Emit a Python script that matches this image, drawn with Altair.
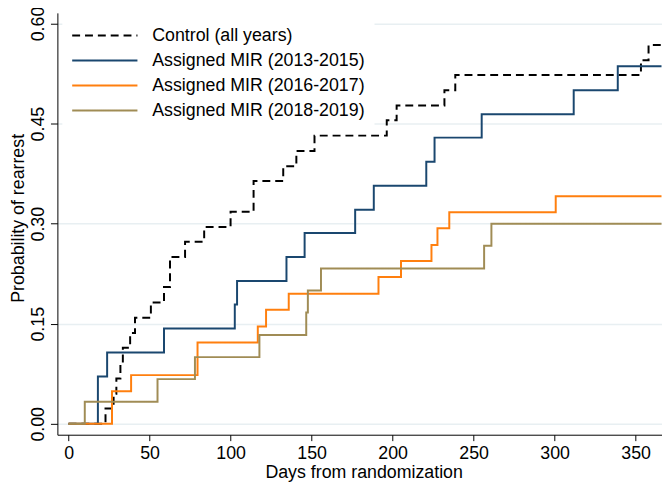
import altair as alt
import pandas as pd

# Kaplan-Meier style cumulative probability of rearrest
series_names = [
    "Control (all years)",
    "Assigned MIR (2013-2015)",
    "Assigned MIR (2016-2017)",
    "Assigned MIR (2018-2019)",
]
series_colors = ["#000000", "#1a476f", "#ff7f0e", "#a08c55"]
series_dashes = [[8, 5], [1, 0], [1, 0], [1, 0]]

control_days = [0, 22.8, 27.8, 29.5, 32, 33.5, 38, 41, 50.8, 58.9, 62.6, 71.9, 83.7,
                100, 114.2, 132.5, 140.6, 151.8, 196.4, 202.5, 232, 238.7, 353.3, 358, 366]
control_prob = [0, 0.023, 0.045, 0.068, 0.091, 0.114, 0.136, 0.159, 0.182, 0.205, 0.25,
                0.273, 0.295, 0.318, 0.364, 0.386, 0.409, 0.432, 0.455, 0.477, 0.5,
                0.523, 0.545, 0.568, 0.568]

mir1315_days = [0, 18.1, 23.8, 58.9, 102.6, 104, 134.5, 145.7, 176.9, 188.4, 220.8,
                225.9, 255, 311.8, 339, 366]
mir1315_prob = [0, 0.071, 0.107, 0.143, 0.179, 0.214, 0.25, 0.286, 0.321, 0.357, 0.393,
                0.429, 0.464, 0.5, 0.536, 0.536]

mir1617_days = [0, 26.8, 38.6, 79.6, 116.8, 121.9, 135.9, 191.3, 205.2, 224, 227.7,
                235, 300.7, 366]
mir1617_prob = [0, 0.049, 0.073, 0.122, 0.146, 0.171, 0.195, 0.22, 0.244, 0.268, 0.293,
                0.317, 0.341, 0.341]

mir1819_days = [0, 10, 54.9, 78, 117.8, 146.7, 147.7, 155.8, 256.5, 261, 366]
mir1819_prob = [0, 0.033, 0.067, 0.1, 0.133, 0.167, 0.2, 0.233, 0.267, 0.3, 0.3]

x_ticks = [0, 50, 100, 150, 200, 250, 300, 350]
y_ticks = [0, 0.15, 0.30, 0.45, 0.60]

FONT = "Liberation Sans"

frames = []
for name, days, prob in zip(
    series_names,
    [control_days, mir1315_days, mir1617_days, mir1819_days],
    [control_prob, mir1315_prob, mir1617_prob, mir1819_prob],
):
    frames.append(pd.DataFrame({"group": name, "day": days, "prob": prob}))
df = pd.concat(frames, ignore_index=True)

chart = (
    alt.Chart(df)
    .mark_line(interpolate="step-after", strokeWidth=2, clip=True)
    .encode(
        x=alt.X(
            "day:Q",
            scale=alt.Scale(domain=[-6.9, 366.3], nice=False, zero=False),
            axis=alt.Axis(
                values=x_ticks,
                grid=False,
                tickSize=6,
                labelPadding=4,
                title="Days from randomization",
                titleX=310,
                titleY=43,
                titleAlign="center",
                titleBaseline="alphabetic",
            ),
        ),
        y=alt.Y(
            "prob:Q",
            scale=alt.Scale(domain=[-0.0163, 0.616], nice=False, zero=False),
            axis=alt.Axis(
                values=y_ticks,
                format=".2f",
                grid=True,
                gridColor="#e8eff2",
                gridWidth=1.5,
                tickSize=7,
                labelAngle=270,
                labelAlign="center",
                labelBaseline="bottom",
                labelPadding=3,
                title="Probability of rearrest",
                titleAngle=270,
                titleX=-34.5,
                titleY=207.5,
                titleAlign="center",
                titleBaseline="alphabetic",
            ),
        ),
        color=alt.Color(
            "group:N",
            scale=alt.Scale(domain=series_names, range=series_colors),
            legend=alt.Legend(
                title=None,
                orient="none",
                legendX=5,
                legendY=4,
                fillColor="white",
                padding=9,
                symbolType="M-3.67,0H3.67",
                symbolSize=324,
                symbolStrokeWidth=2,
                symbolOffset=24,
                labelOffset=38,
                labelFontSize=18,
                labelFont=FONT,
                labelColor="black",
                labelLimit=0,
                rowPadding=6.3,
            ),
        ),
        strokeDash=alt.StrokeDash(
            "group:N",
            scale=alt.Scale(domain=series_names, range=series_dashes),
            legend=alt.Legend(title=None),
        ),
    )
    .properties(
        width=612,
        height=427,
        autosize=alt.AutoSizeParams(type="none"),
        padding={"left": 50, "top": 2, "right": 0, "bottom": 50},
    )
    .configure_view(strokeWidth=0)
    .configure_axis(
        labelFont=FONT,
        titleFont=FONT,
        labelFontSize=18,
        titleFontSize=18,
        titleFontWeight="normal",
        labelColor="black",
        titleColor="black",
        domainColor="black",
        tickColor="black",
        domainWidth=1,
        tickWidth=1,
    )
)

chart.save("out.html", embed_options={"renderer": "svg", "actions": False})
